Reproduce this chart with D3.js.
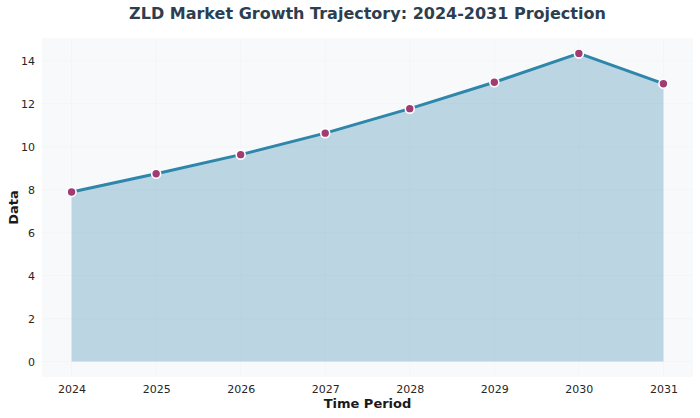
<!DOCTYPE html>
<html>
<head>
<meta charset="utf-8">
<script src="https://cdn.jsdelivr.net/npm/d3@7"></script>
<style>
  body { margin: 0; background: #fff; }
  text { font-family: "DejaVu Sans", sans-serif; }
</style>
</head>
<body>
<div class="area-chart"></div>
<script>
var years = [2024, 2025, 2026, 2027, 2028, 2029, 2030, 2031];
var values = [7.89, 8.74, 9.63, 10.63, 11.77, 13.0, 14.34, 12.93];
var yTicks = [0, 2, 4, 6, 8, 10, 12, 14];

var width = 700;
var height = 418;
var margin = {top: 38, right: 7, bottom: 41, left: 42};

var svg = d3.select(".area-chart")
            .append("svg")
              .attr("width", width)
              .attr("height", height);

// matplotlib-like 5% padding on both axes
var x = d3.scaleLinear()
          .domain([2024 - 0.35, 2031 + 0.35])
          .range([margin.left, width - margin.right]);

var yMax = d3.max(values);
var pad = yMax * 0.05;
var y = d3.scaleLinear()
          .domain([-pad, yMax + pad])
          .range([height - margin.bottom, margin.top]);

// plot background
svg.append("rect")
   .attr("x", margin.left)
   .attr("y", margin.top)
   .attr("width", width - margin.left - margin.right)
   .attr("height", height - margin.top - margin.bottom)
   .attr("fill", "#f8f9fa");

// very faint grid
svg.append("g")
   .selectAll("line")
   .data(yTicks)
   .enter()
   .append("line")
    .attr("x1", margin.left)
    .attr("x2", width - margin.right)
    .attr("y1", function(d) { return y(d); })
    .attr("y2", function(d) { return y(d); })
    .attr("stroke", "#dddddd")
    .attr("stroke-opacity", 0.12);

svg.append("g")
   .selectAll("line")
   .data(years)
   .enter()
   .append("line")
    .attr("x1", function(d) { return x(d); })
    .attr("x2", function(d) { return x(d); })
    .attr("y1", margin.top)
    .attr("y2", height - margin.bottom)
    .attr("stroke", "#dddddd")
    .attr("stroke-opacity", 0.12);

var points = years.map(function(d, i) { return [d, values[i]]; });

// area fill
var area = d3.area()
             .x(function(d) { return x(d[0]); })
             .y0(y(0))
             .y1(function(d) { return y(d[1]); });

svg.append("path")
   .datum(points)
   .attr("d", area)
   .attr("fill", "#2E86AB")
   .attr("fill-opacity", 0.3);

// line
var line = d3.line()
             .x(function(d) { return x(d[0]); })
             .y(function(d) { return y(d[1]); });

svg.append("path")
   .datum(points)
   .attr("d", line)
   .attr("fill", "none")
   .attr("stroke", "#2E86AB")
   .attr("stroke-width", 3)
   .attr("stroke-linejoin", "round");

// markers
svg.selectAll("circle")
   .data(points)
   .enter()
   .append("circle")
    .attr("cx", function(d) { return x(d[0]); })
    .attr("cy", function(d) { return y(d[1]); })
    .attr("r", 4.5)
    .attr("fill", "#A23B72")
    .attr("stroke", "white")
    .attr("stroke-width", 1.6);

// axes (no lines, no ticks)
var xAxis = svg.append("g")
   .attr("transform", "translate(0," + (height - margin.bottom) + ")")
   .call(d3.axisBottom(x).tickValues(years).tickFormat(d3.format("d")).tickSize(0).tickPadding(8));

var yAxis = svg.append("g")
   .attr("transform", "translate(" + margin.left + ",0)")
   .call(d3.axisLeft(y).tickValues(yTicks).tickSize(0).tickPadding(7));

[xAxis, yAxis].forEach(function(g) {
  g.select(".domain").remove();
  g.selectAll("text")
   .attr("font-family", "DejaVu Sans, sans-serif")
   .attr("font-size", "11px")
   .attr("fill", "#262626");
});

// title
svg.append("text")
   .text("ZLD Market Growth Trajectory: 2024-2031 Projection")
   .attr("x", (margin.left + width - margin.right) / 2)
   .attr("y", 19)
   .attr("text-anchor", "middle")
   .attr("font-size", "16px")
   .attr("font-weight", "bold")
   .attr("fill", "#2C3E50");

// axis labels
svg.append("text")
   .text("Time Period")
   .attr("x", (margin.left + width - margin.right) / 2)
   .attr("y", 408)
   .attr("text-anchor", "middle")
   .attr("font-size", "13px")
   .attr("font-weight", "bold")
   .attr("fill", "#1a1a1a");

svg.append("text")
   .text("Data")
   .attr("transform", "translate(18," + ((margin.top + height - margin.bottom) / 2) + ") rotate(-90)")
   .attr("text-anchor", "middle")
   .attr("font-size", "13px")
   .attr("font-weight", "bold")
   .attr("fill", "#1a1a1a");
</script>
</body>
</html>
